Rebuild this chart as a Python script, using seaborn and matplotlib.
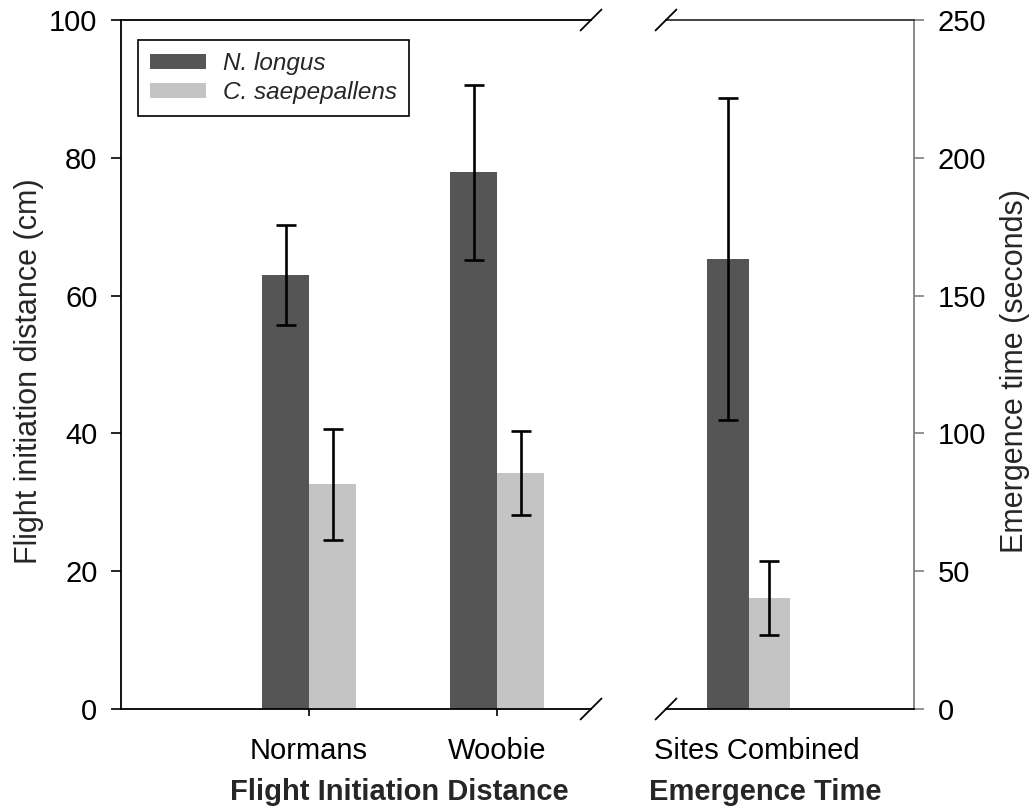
import matplotlib
matplotlib.use("Agg")
import matplotlib.pyplot as plt
import seaborn as sns
import pandas as pd

# ---- data ----
species = ["N. longus", "C. saepepallens"]
fid_sites = ["Normans", "Woobie"]
fid_longus = [63.0, 77.9]
fid_longus_se = [7.3, 12.7]
fid_saep = [32.6, 34.3]
fid_saep_se = [8.1, 6.1]

em_site = ["Sites Combined"]
em_longus = [163.3]
em_longus_se = [58.5]
em_saep = [40.3]
em_saep_se = [13.4]

colors = ["#555555", "#c4c4c4"]

sns.set_style("ticks")
plt.rcParams["font.family"] = ["Liberation Sans", "DejaVu Sans"]

fid_df = pd.DataFrame({
    "site": fid_sites * 2,
    "species": [species[0]] * 2 + [species[1]] * 2,
    "value": fid_longus + fid_saep,
})
em_df = pd.DataFrame({
    "site": em_site * 2,
    "species": species,
    "value": em_longus + em_saep,
})

W, H = 1033, 811
fig = plt.figure(figsize=(W / 100, H / 100), dpi=100)
ax1 = fig.add_axes([121 / W, 1 - 709 / H, (591 - 121) / W, (709 - 20) / H])
ax2 = fig.add_axes([666 / W, 1 - 709 / H, (914 - 666) / W, (709 - 20) / H])

sns.barplot(data=fid_df, x="site", y="value", hue="species", hue_order=species,
            palette=colors, saturation=1, width=0.5, errorbar=None, ax=ax1,
            linewidth=0)
sns.barplot(data=em_df, x="site", y="value", hue="species", hue_order=species,
            palette=colors, saturation=1, width=0.5, errorbar=None, ax=ax2,
            linewidth=0)

def add_err(ax, errs_list):
    for cont, errs in zip(ax.containers, errs_list):
        xs = [b.get_x() + b.get_width() / 2 for b in cont]
        hs = [b.get_height() for b in cont]
        ax.errorbar(xs, hs, yerr=errs, fmt="none", ecolor="black",
                    elinewidth=1.9, capsize=7, capthick=1.9, zorder=5)

add_err(ax1, [fid_longus_se, fid_saep_se])
add_err(ax2, [em_longus_se, em_saep_se])

FS = 21
# left axes
ax1.set_xlim(-1.0, 1.5)
ax1.set_ylim(0, 100)
ax1.set_yticks([0, 20, 40, 60, 80, 100])
ax1.spines["right"].set_visible(False)
for s in ["left", "top", "bottom"]:
    ax1.spines[s].set_color("black")
    ax1.spines[s].set_linewidth(1.3)
ax1.tick_params(axis="y", direction="out", length=7, width=1.2, pad=10,
                labelsize=FS, colors="black")
ax1.tick_params(axis="x", direction="out", length=5, width=1.2, pad=15,
                labelsize=FS, colors="black")
ax1.set_ylabel("Flight initiation distance (cm)", fontsize=22)
ax1.set_xlabel("Flight Initiation Distance", fontsize=FS, fontweight="bold")
ax1.xaxis.set_label_coords((399 - 121) / 470, -0.1)
ax1.yaxis.set_label_coords((44 - 121) / 470, 0.49)

leg = ax1.legend(loc="upper left", bbox_to_anchor=((138 - 121) / 470, 1 - (40 - 20) / 689),
                 borderaxespad=0, prop={"style": "italic", "size": 17.5},
                 frameon=True, fancybox=False, handlelength=2.3, handleheight=0.6,
                 labelspacing=0.25, handletextpad=0.7, borderpad=0.5)
leg.get_frame().set_edgecolor("black")
leg.get_frame().set_linewidth(1.2)
leg.get_frame().set_alpha(1)

# right axes
ax2.set_xlim(-0.5, 1.0)
ax2.set_ylim(0, 250)
ax2.set_yticks([0, 50, 100, 150, 200, 250])
ax2.set_xticks([0.05], labels=em_site)
ax2.yaxis.tick_right()
ax2.yaxis.set_label_position("right")
ax2.spines["left"].set_visible(False)
ax2.spines["right"].set_visible(True)
ax2.spines["right"].set_color("#808080")
ax2.spines["right"].set_linewidth(1.3)
ax2.spines["top"].set_color("#333333")
ax2.spines["top"].set_linewidth(1.3)
ax2.spines["bottom"].set_color("black")
ax2.spines["bottom"].set_linewidth(1.3)
ax2.tick_params(axis="y", direction="out", length=7, width=1.2, pad=10,
                labelsize=FS, color="#808080", labelcolor="black", left=False,
                right=True, labelleft=False, labelright=True)
ax2.tick_params(axis="x", length=0, pad=20, labelsize=FS, colors="black")
ax2.set_ylabel("Emergence time (seconds)", fontsize=22)
ax2.set_xlabel("Emergence Time", fontsize=FS, fontweight="bold")
ax2.xaxis.set_label_coords((765 - 666) / 248, -0.1)
ax2.yaxis.set_label_coords((1000 - 666) / 248, 0.49)
if ax2.get_legend() is not None:
    ax2.get_legend().remove()

# break marks
def brk(ax, x, wpx, hpx):
    dx = 10.5 / wpx
    dy = 10.5 / hpx
    for y in (0, 1):
        ax.plot([x - dx, x + dx], [y - dy, y + dy], transform=ax.transAxes,
                color="black", lw=1.3, clip_on=False, zorder=10)

brk(ax1, 1.0, 470, 689)
brk(ax2, 0.0, 248, 689)

for ax in (ax1, ax2):
    ax.set_facecolor("white")

fig.savefig("out.png", dpi=100, facecolor="white")
